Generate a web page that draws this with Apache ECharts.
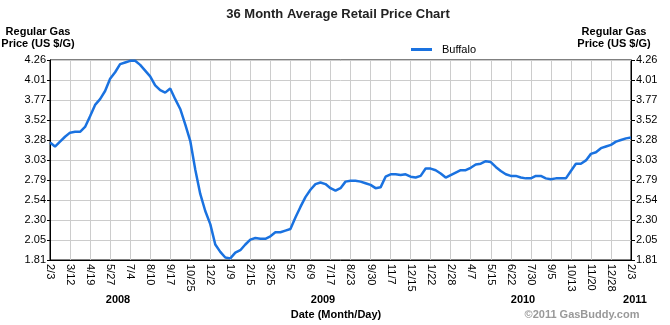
<!DOCTYPE html>
<html><head><meta charset="utf-8">
<script src="https://cdn.jsdelivr.net/npm/echarts@6/dist/echarts.min.js"></script>
<style>html,body{margin:0;padding:0;background:#fff}#c{width:670px;height:325px}</style>
</head><body><div id="c"></div>
<script>
// Tick labels on the date axis (one gridline every ~38 days, 2/3/2008 .. 2/3/2011)
const dateTicks = ['2/3','3/12','4/19','5/27','7/4','8/10','9/17','10/25','12/2','1/9',
  '2/15','3/25','5/2','6/9','7/17','8/23','9/30','11/7','12/15','1/22',
  '2/28','4/7','5/15','6/22','7/30','9/5','10/13','11/20','12/28','2/3'];
const yearLabels = ['2008','2009','2010','2011'];
const yTickLabels = ['1.81','2.05','2.30','2.54','2.79','3.03','3.28','3.52','3.77','4.01','4.26'];
const seriesName = 'Buffalo';
// Buffalo average retail price, 4 samples per date-tick interval (117 points)
const buffalo = [
  3.25,3.20,3.26,3.32,3.37,3.38,3.38,3.44,3.57,3.71,
  3.78,3.88,4.03,4.11,4.21,4.23,4.25,4.25,4.20,4.13,
  4.06,3.95,3.89,3.86,3.91,3.78,3.66,3.47,3.27,2.92,
  2.62,2.41,2.25,2.00,1.91,1.84,1.83,1.90,1.93,2.00,
  2.06,2.08,2.07,2.07,2.10,2.15,2.15,2.17,2.19,2.33,
  2.46,2.58,2.67,2.74,2.76,2.74,2.69,2.66,2.69,2.77,
  2.78,2.78,2.77,2.75,2.73,2.69,2.70,2.83,2.86,2.86,
  2.85,2.86,2.83,2.82,2.84,2.93,2.93,2.91,2.87,2.82,
  2.85,2.88,2.91,2.91,2.94,2.98,2.99,3.02,3.01,2.95,
  2.90,2.86,2.84,2.84,2.82,2.81,2.81,2.84,2.84,2.81,
  2.80,2.81,2.81,2.81,2.90,2.99,2.99,3.03,3.11,3.13,
  3.18,3.20,3.22,3.26,3.28,3.30,3.31
];

const yMin = 1.81, yStep = 0.245, perTick = 4;
const yCount = yTickLabels.length - 1;
const categories = buffalo.map((_, i) => (i % perTick === 0 ? dateTicks[i / perTick] : ''));
const plotData = buffalo.map(v => +(v - yMin).toFixed(4));
const yFmt = v => yTickLabels[Math.round(v / yStep)] || '';

const FONT = 'Liberation Sans, Arial, sans-serif';
const boldText = (x, y, text, extra) => ({
  type: 'text', x, y,
  style: Object.assign({ text, fill: '#000', font: 'bold 11px ' + FONT, textAlign: 'center', textVerticalAlign: 'middle' }, extra || {})
});

const chart = echarts.init(document.getElementById('c'), null, { renderer: 'canvas' });
chart.setOption({
  animation: false,
  backgroundColor: '#fff',
  grid: { left: 50, right: 39, top: 60, bottom: 65, show: true, borderColor: '#000', borderWidth: 1, containLabel: false },
  legend: {
    data: [seriesName], left: 411, top: 44, padding: 0, icon: 'rect', itemWidth: 21, itemHeight: 3,
    textStyle: { fontSize: 11, color: '#000', fontFamily: FONT, padding: [0, 0, 0, 5] }
  },
  xAxis: {
    type: 'category', boundaryGap: false, data: categories,
    axisLine: { lineStyle: { color: '#000', width: 1 } },
    axisTick: { show: false },
    axisLabel: { interval: perTick - 1, rotate: -90, fontSize: 11, color: '#000', fontFamily: FONT, margin: 4 },
    splitLine: { show: true, interval: perTick - 1, lineStyle: { color: '#cccccc', width: 1 } }
  },
  yAxis: [
    {
      type: 'value', position: 'left', min: 0, max: yStep * yCount, interval: yStep,
      axisLine: { show: true, lineStyle: { color: '#000', width: 1 } },
      axisTick: { show: true, length: 3, lineStyle: { color: '#000' } },
      axisLabel: { formatter: yFmt, fontSize: 11, color: '#000', fontFamily: FONT, margin: 4 },
      splitLine: { show: true, lineStyle: { color: '#cccccc', width: 1 } }
    },
    {
      type: 'value', position: 'right', min: 0, max: yStep * yCount, interval: yStep,
      axisLine: { show: true, lineStyle: { color: '#000', width: 1 } },
      axisTick: { show: true, length: 4, lineStyle: { color: '#000' } },
      axisLabel: { formatter: yFmt, fontSize: 11, color: '#000', fontFamily: FONT, margin: 5 },
      splitLine: { show: false }
    }
  ],
  series: [{
    name: seriesName, type: 'line', yAxisIndex: 0, data: plotData,
    showSymbol: false, symbol: 'none', color: '#1a72e0',
    lineStyle: { color: '#1a72e0', width: 2.5 }
  }],
  graphic: [
    boldText(338, 14, '36 Month Average Retail Price Chart', { font: 'bold 13px ' + FONT, fill: '#222' }),
    boldText(38, 38, 'Regular Gas\nPrice (US $/G)', { lineHeight: 12 }),
    boldText(614, 38, 'Regular Gas\nPrice (US $/G)', { lineHeight: 12 }),
    boldText(118, 300, yearLabels[0]),
    boldText(323, 300, yearLabels[1]),
    boldText(523, 300, yearLabels[2]),
    boldText(635, 300, yearLabels[3]),
    boldText(336, 315, 'Date (Month/Day)'),
    boldText(582, 315, '\u00a92011 GasBuddy.com', { fill: '#999' })
  ]
});
</script>
</body></html>
